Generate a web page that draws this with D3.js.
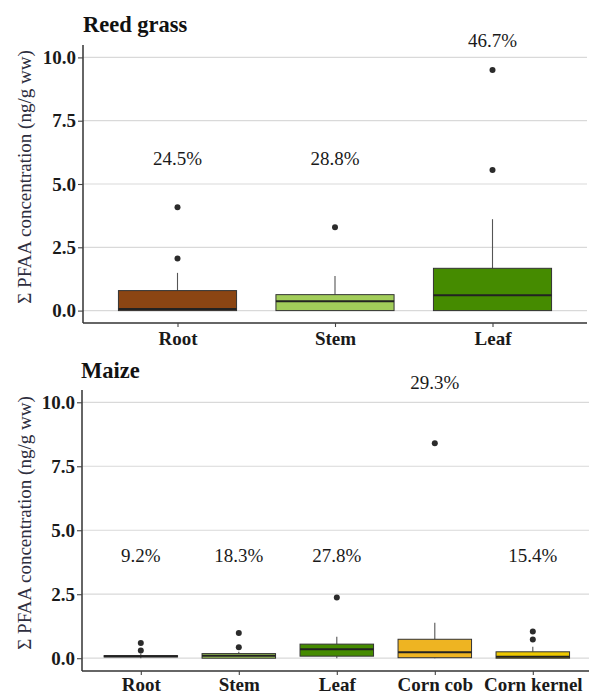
<!DOCTYPE html>
<html>
<head>
<meta charset="utf-8">
<script src="https://cdn.jsdelivr.net/npm/d3@7"></script>
<style>
  html, body { margin: 0; padding: 0; background: #fff; }
  svg { display: block; }
  svg text { font-family: "Liberation Serif", "DejaVu Serif", "Times New Roman", Times, serif; }
</style>
</head>
<body>
<svg id="chart" width="589" height="695"></svg>
<script>
// ---- Data ----
const yTicks = [0, 2.5, 5, 7.5, 10];

// Reed grass
const reedCategories = ["Root", "Stem", "Leaf"];
const reedColors     = ["#8B4513", "#A2CD5A", "#458B00"];
const reedWhiskerLow = [0.00, 0.00, 0.00];
const reedQ1         = [0.00, 0.00, 0.00];
const reedMedian     = [0.06, 0.37, 0.61];
const reedQ3         = [0.79, 0.63, 1.67];
const reedWhiskerHigh= [1.49, 1.37, 3.61];
const reedOutliers   = [[4.08, 2.06], [3.29], [9.50, 5.55]];
const reedPercent    = ["24.5%", "28.8%", "46.7%"];
const reedPercentY   = [6.0, 6.0, 10.68];

// Maize
const maizeCategories = ["Root", "Stem", "Leaf", "Corn cob", "Corn kernel"];
const maizeColors     = ["#8B4513", "#A2CD5A", "#458B00", "#EEB422", "#EEC900"];
const maizeWhiskerLow = [0.00, 0.00, 0.00, 0.00, 0.00];
const maizeQ1         = [0.05, 0.00, 0.08, 0.02, 0.00];
const maizeMedian     = [0.08, 0.10, 0.35, 0.23, 0.06];
const maizeQ3         = [0.10, 0.18, 0.55, 0.74, 0.25];
const maizeWhiskerHigh= [0.18, 0.25, 0.84, 1.39, 0.45];
const maizeOutliers   = [[0.59, 0.30], [0.98, 0.43], [2.37], [8.40], [1.04, 0.73]];
const maizePercent    = ["9.2%", "18.3%", "27.8%", "29.3%", "15.4%"];
const maizePercentY   = [4.0, 4.0, 4.0, 10.78, 4.0];

const yTitle = "\u03A3 PFAA concentration (ng/g ww)";

// ---- Drawing ----
const svg = d3.select("#chart");

function panel(cfg) {
  const g = svg.append("g");
  const x = d3.scalePoint().domain(cfg.categories).range(cfg.xRange).padding(0.6);
  const y = d3.scaleLinear().domain(cfg.yDomain).range(cfg.yRange);
  const bw = x.step() * 0.75;
  const x0 = cfg.xRange[0], x1 = cfg.xRange[1];

  // gridlines
  g.selectAll("line.grid").data(yTicks).join("line")
    .attr("x1", x0).attr("x2", x1)
    .attr("y1", d => y(d)).attr("y2", d => y(d))
    .attr("stroke", "#d9d9d9").attr("stroke-width", 1.2);

  const rows = cfg.categories.map((c, i) => ({
    c, i, color: cfg.colors[i], lo: cfg.wLow[i], q1: cfg.q1[i], med: cfg.median[i],
    q3: cfg.q3[i], hi: cfg.wHigh[i], out: cfg.outliers[i]
  }));

  // whiskers
  g.selectAll("line.wh").data(rows).join("line")
    .attr("x1", d => x(d.c)).attr("x2", d => x(d.c))
    .attr("y1", d => y(d.q3)).attr("y2", d => y(d.hi))
    .attr("stroke", "#555").attr("stroke-width", 1.1);
  g.selectAll("line.wl").data(rows).join("line")
    .attr("x1", d => x(d.c)).attr("x2", d => x(d.c))
    .attr("y1", d => y(d.q1)).attr("y2", d => y(d.lo))
    .attr("stroke", "#555").attr("stroke-width", 1.1);

  // boxes
  g.selectAll("rect.box").data(rows).join("rect")
    .attr("x", d => x(d.c) - bw / 2).attr("width", bw)
    .attr("y", d => y(d.q3)).attr("height", d => Math.max(0, y(d.q1) - y(d.q3)))
    .attr("fill", d => d.color).attr("stroke", "#333").attr("stroke-width", 1);

  // medians
  g.selectAll("line.med").data(rows).join("line")
    .attr("x1", d => x(d.c) - bw / 2).attr("x2", d => x(d.c) + bw / 2)
    .attr("y1", d => y(d.med)).attr("y2", d => y(d.med))
    .attr("stroke", "#222").attr("stroke-width", 2);

  // outliers
  const pts = rows.flatMap(d => d.out.map(v => ({ c: d.c, v })));
  g.selectAll("circle.out").data(pts).join("circle")
    .attr("cx", d => x(d.c)).attr("cy", d => y(d.v)).attr("r", 3)
    .attr("fill", "#2b2b2b");

  // percent labels
  g.selectAll("text.pct").data(cfg.categories).join("text")
    .attr("x", d => x(d)).attr("y", (d, i) => y(cfg.pctY[i]))
    .attr("dy", "0.35em").attr("text-anchor", "middle")
    .attr("font-size", 19).attr("fill", "#1a1a1a")
    .text((d, i) => cfg.pct[i]);

  // y axis
  const yAxis = g.append("g").attr("transform", `translate(${x0},0)`)
    .call(d3.axisLeft(y).tickValues(yTicks).tickFormat(d3.format(".1f")).tickSize(5).tickPadding(2));
  yAxis.attr("font-family", null);
  yAxis.select(".domain").attr("stroke", "#333").attr("stroke-width", 1.5)
    .attr("d", `M0,${cfg.yRange[0]}V${cfg.yRange[1]}`);
  yAxis.selectAll(".tick line").attr("stroke", "#444").attr("stroke-width", 1.1);
  yAxis.selectAll(".tick text").attr("font-size", 19)
    .attr("font-weight", "bold").attr("fill", "#1a1a1a");

  // x axis
  const xAxis = g.append("g").attr("transform", `translate(0,${cfg.yRange[0]})`)
    .call(d3.axisBottom(x).tickSize(4).tickPadding(cfg.xPad));
  xAxis.attr("font-family", null);
  xAxis.select(".domain").attr("stroke", "#333").attr("stroke-width", 1.5)
    .attr("d", `M${x0},0H${x1}`);
  xAxis.selectAll(".tick line").attr("stroke", "#444").attr("stroke-width", 1.1);
  xAxis.selectAll(".tick text").attr("font-size", 19)
    .attr("font-weight", "bold").attr("fill", "#1a1a1a");

  // y title
  g.append("text")
    .attr("transform", `translate(${cfg.yTitleX},${cfg.yTitleY}) rotate(-90)`)
    .attr("text-anchor", "middle").attr("dy", "0.35em")
    .attr("font-size", 19).attr("fill", "#2e2e3e")
    .text(yTitle);

  // panel title
  g.append("text").attr("x", cfg.titleX).attr("y", cfg.titleY)
    .attr("font-size", 22.5).attr("font-weight", "bold")
    .attr("fill", "#111").text(cfg.title);
}

panel({
  title: "Reed grass", titleX: 83, titleY: 32,
  categories: reedCategories, colors: reedColors,
  wLow: reedWhiskerLow, q1: reedQ1, median: reedMedian, q3: reedQ3, wHigh: reedWhiskerHigh,
  outliers: reedOutliers, pct: reedPercent, pctY: reedPercentY,
  xRange: [83, 587], yDomain: [-0.49, 10.49], yRange: [323, 45], xPad: 5,
  yTitleX: 24, yTitleY: 177
});

panel({
  title: "Maize", titleX: 81, titleY: 378,
  categories: maizeCategories, colors: maizeColors,
  wLow: maizeWhiskerLow, q1: maizeQ1, median: maizeMedian, q3: maizeQ3, wHigh: maizeWhiskerHigh,
  outliers: maizeOutliers, pct: maizePercent, pctY: maizePercentY,
  xRange: [82, 591.6], yDomain: [-0.50, 10.48], yRange: [671, 390], xPad: 3,
  yTitleX: 24, yTitleY: 523
});
</script>
</body>
</html>
